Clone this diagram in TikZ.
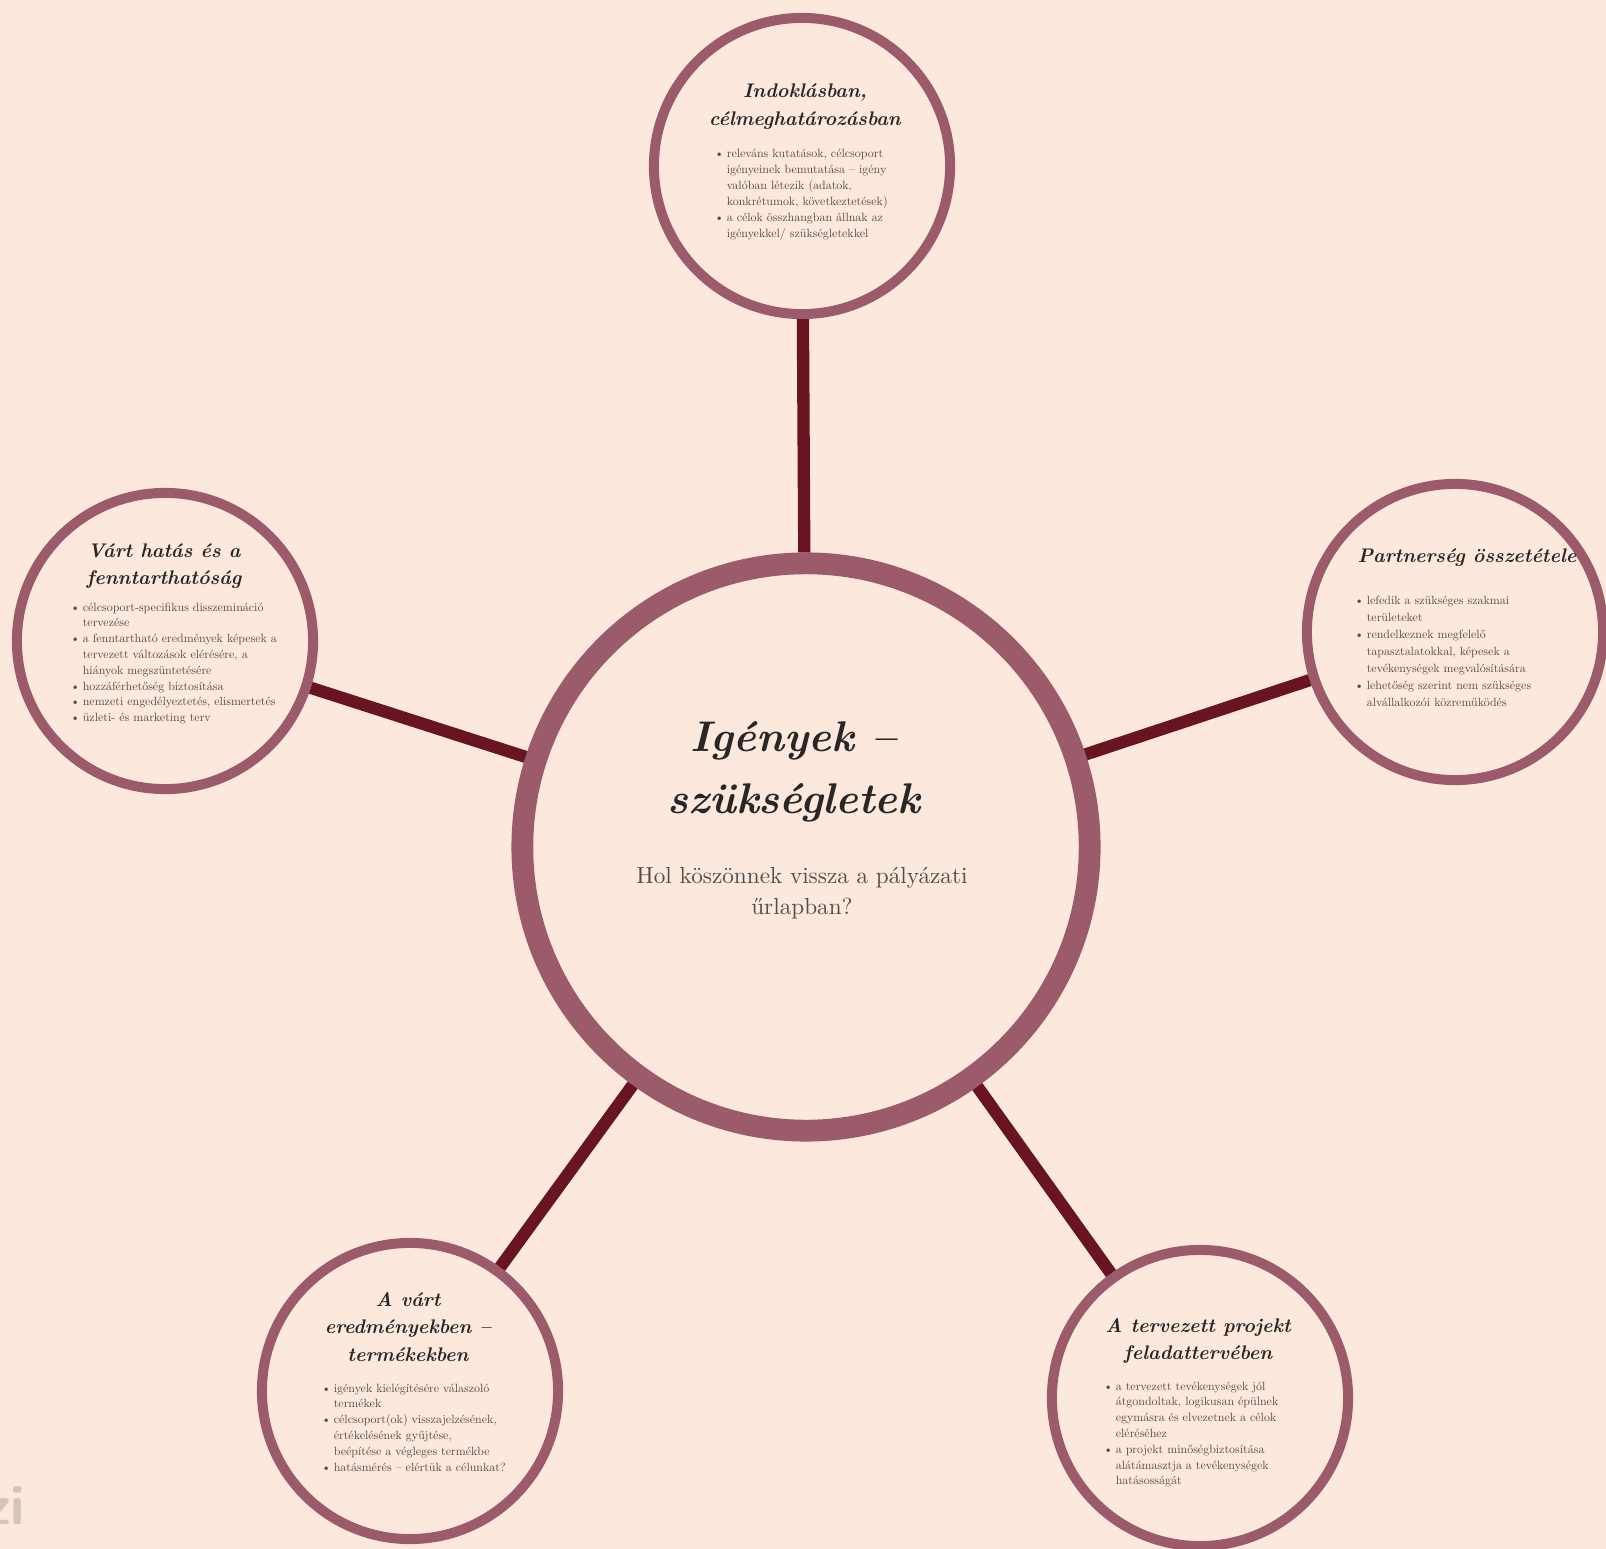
\documentclass[tikz,border=0pt]{standalone}
\usepackage{fontspec}
\setmainfont{lmroman10-regular.otf}[BoldFont=lmroman10-bold.otf, ItalicFont=lmroman10-italic.otf, BoldItalicFont=lmroman10-bolditalic.otf]
\definecolor{bgpeach}{RGB}{253,232,222}
\definecolor{ringcol}{RGB}{155,91,106}
\definecolor{linkcol}{RGB}{104,20,34}
\definecolor{inkcol}{RGB}{40,38,38}
\definecolor{greycol}{RGB}{80,76,76}
\definecolor{wmcol}{RGB}{212,196,190}
\newcommand{\bl}{\textbullet}
\begin{document}
\begin{tikzpicture}[x=0.01cm, y=-0.01cm,
  hub/.style={circle, draw=ringcol, line width=6.2pt, fill=bgpeach, minimum size=5.67cm, inner sep=0pt},
  sat/.style={circle, draw=ringcol, line width=2.85pt, fill=bgpeach, minimum size=2.96cm, inner sep=0pt},
  link/.style={draw=linkcol, line width=3.5pt},
  ttl/.style={text=inkcol, align=center, inner sep=0pt, font=\fontsize{5.6}{7.9}\selectfont\bfseries\itshape},
  sub/.style={text=greycol, align=center, inner sep=0pt, font=\fontsize{6.6}{8.7}\selectfont},
  lst/.style={text=greycol, inner sep=0pt, anchor=base west, font=\fontsize{3.4}{4.5}\selectfont}]
\fill[bgpeach] (0,0) rectangle (1606,1549);
\useasboundingbox (0,0) rectangle (1606,1549);
\node[hub] (needs) at (806,847) {};
\node[sat] (reason) at (802,166) {};
\node[sat] (partner) at (1455,632) {};
\node[sat] (impact) at (165,641) {};
\node[sat] (results) at (410,1391) {};
\node[sat] (tasks) at (1200,1398) {};
\draw[link] (needs) -- (reason);
\draw[link] (needs) -- (partner);
\draw[link] (needs) -- (impact);
\draw[link] (needs) -- (results);
\draw[link] (needs) -- (tasks);
\node[ttl, font=\fontsize{12.2}{17.8}\selectfont\bfseries\itshape] (needsT) at (794,772) {Igények –\\szükségletek};
\node[sub] (needsS) at (802,893) {Hol köszönnek vissza a pályázati\\űrlapban?};
\node[ttl] (reasonT) at (805,107) {Indoklásban,\\célmeghatározásban};
\node[lst] (reasonL) at (714,158) {\begin{tabular}[t]{@{}l@{\hspace{0.8pt}}l@{}}
\bl & releváns kutatások, célcsoport\\
 & igényeinek bemutatása – igény\\
 & valóban létezik (adatok,\\
 & konkrétumok, következtetések)\\
\bl & a célok összhangban állnak az\\
 & igényekkel/ szükségletekkel
\end{tabular}};
\node[ttl] (impactT) at (164,566) {Várt hatás és a\\fenntarthatóság};
\node[lst] (impactL) at (70,611) {\begin{tabular}[t]{@{}l@{\hspace{0.8pt}}l@{}}
\bl & célcsoport-specifikus disszemináció\\
 & tervezése\\
\bl & a fenntartható eredmények képesek a\\
 & tervezett változások elérésére, a\\
 & hiányok megszüntetésére\\
\bl & hozzáférhetőség biztosítása\\
\bl & nemzeti engedélyeztetés, elismertetés\\
\bl & üzleti- és marketing terv
\end{tabular}};
\node[ttl] (partnerT) at (1467,558) {Partnerség összetétele};
\node[lst, font=\fontsize{3.4}{4.84}\selectfont] (partnerL) at (1354,604) {\begin{tabular}[t]{@{}l@{\hspace{0.8pt}}l@{}}
\bl & lefedik a szükséges szakmai\\
 & területeket\\
\bl & rendelkeznek megfelelő\\
 & tapasztalatokkal, képesek a\\
 & tevékenységek megvalósítására\\
\bl & lehetőség szerint nem szükséges\\
 & alvállalkozói közreműködés
\end{tabular}};
\node[ttl] (resultsT) at (408,1327) {A várt\\eredményekben –\\termékekben};
\node[lst] (resultsL) at (321,1392) {\begin{tabular}[t]{@{}l@{\hspace{0.8pt}}l@{}}
\bl & igények kielégítésére válaszoló\\
 & termékek\\
\bl & célcsoport(ok) visszajelzésének,\\
 & értékelésének gyűjtése,\\
 & beépítése a végleges termékbe\\
\bl & hatásmérés – elértük a célunkat?
\end{tabular}};
\node[ttl] (tasksT) at (1198,1341) {A tervezett projekt\\feladattervében};
\node[lst] (tasksL) at (1103,1390) {\begin{tabular}[t]{@{}l@{\hspace{0.8pt}}l@{}}
\bl & a tervezett tevékenységek jól\\
 & átgondoltak, logikusan épülnek\\
 & egymásra és elvezetnek a célok\\
 & eléréséhez\\
\bl & a projekt minőségbiztosítása\\
 & alátámasztja a tevékenységek\\
 & hatásosságát
\end{tabular}};
\node[text=wmcol, anchor=south east, inner sep=0pt, font=\sffamily\bfseries\fontsize{16}{16}\selectfont] (wm) at (26,1525) {zi};
\end{tikzpicture}
\end{document}
